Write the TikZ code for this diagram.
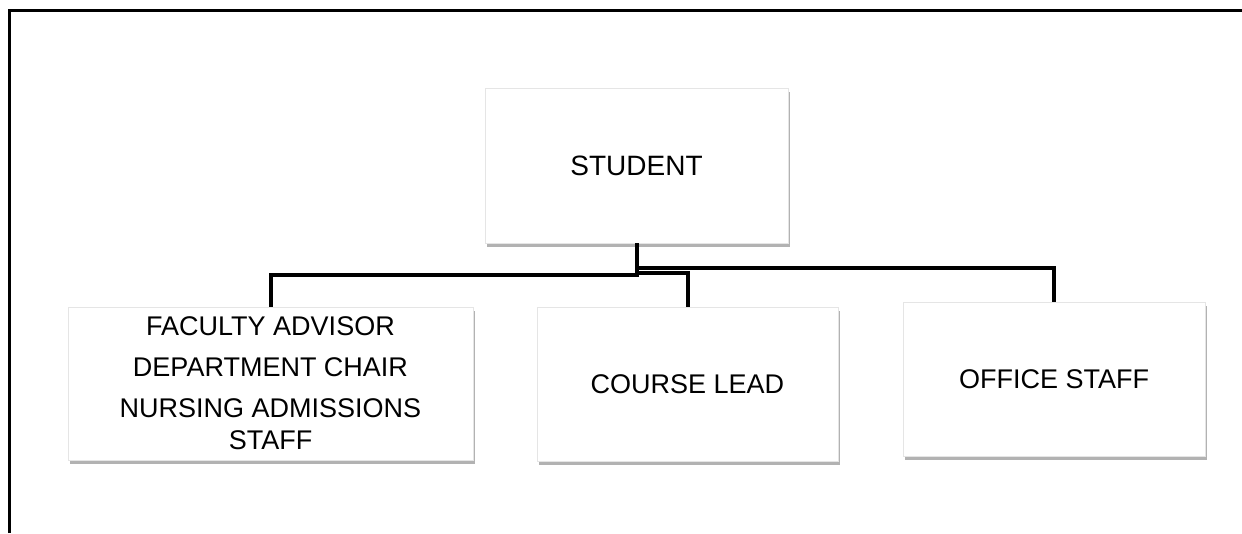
\documentclass[tikz,border=0pt]{standalone}
\usepackage{fontspec}
\setmainfont{Liberation Sans}
\usepackage{tikz}
\usetikzlibrary{calc}
\usetikzlibrary{shadows}
\usetikzlibrary{positioning}

\begin{document}
\begin{tikzpicture}[x=1pt,y=-1pt]
% 1 px = 1pt
    \def\WIDTH{1242}
    \def\HEIGHT{533}
    \def\BOXW{303pt} %width of boxes
    \def\BOXH{155pt} %
    \def\STEM{25} % drop below student box

    \tikzset{
      box/.style={draw=black!10, fill=white, align=center,
        minimum width=\BOXW, minimum height=\BOXH,
        font=\fontsize{27}{32}\selectfont,
        drop shadow={shadow xshift=1.5pt, shadow yshift=-3.5pt,
          fill=black, opacity=0.3}},
      branch/.style={line width=4pt, line join=miter},
    }

    \useasboundingbox (0,0) rectangle (\WIDTH,\HEIGHT);

    % FRAME
    \draw[line width=3pt] (9,\HEIGHT) -- (9,10) -- (\WIDTH,10);

    % TOP BOX
    \node[box, font=\fontsize{28}{32}\selectfont] (student) at (636.5,165.5) {STUDENT};

    % LOWER BOXES
    \node[box, minimum width=405pt, minimum height=153pt] (advisor) at (270.5,383.5) {
        FACULTY ADVISOR\\[9pt]
        DEPARTMENT CHAIR\\[9pt]
        NURSING ADMISSIONS\\
        STAFF
    };
    \node[box, minimum width=301pt, minimum height=154pt] (lead) at (687.5,384) {COURSE LEAD};
    \node[box, minimum width=302pt, minimum height=154pt] (office) at (1054,379) {OFFICE STAFF};

    % BRANCHES
    \draw[branch] (student.south) -- ++(0,\STEM) coordinate (S1) -| (office.north);
    \draw[branch] (student.south) -- ++(0,\STEM+5) coordinate (S2) -| (lead.north);
    \draw[branch] (student.south) -- ++(0,\STEM+7) coordinate (S3) -| (advisor.north);

\end{tikzpicture}
\end{document}
